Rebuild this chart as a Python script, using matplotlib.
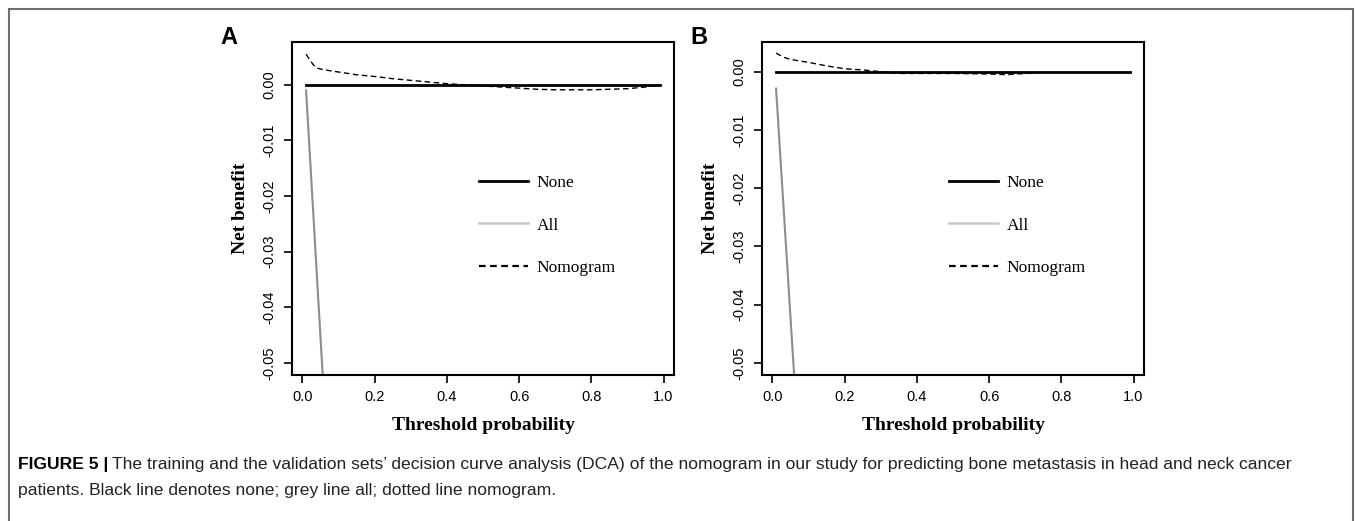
import matplotlib
matplotlib.use("Agg")
import matplotlib.pyplot as plt
from matplotlib.lines import Line2D
from matplotlib.patches import Rectangle

# threshold probabilities and net benefit
thr_a = [0.01, 0.02, 0.03, 0.04, 0.06, 0.08, 0.10, 0.15, 0.20, 0.25, 0.30, 0.35, 0.40,
         0.45, 0.50, 0.55, 0.60, 0.65, 0.70, 0.75, 0.80, 0.85, 0.90, 0.95, 0.99]
nomo_a = [0.0055, 0.0045, 0.0036, 0.0030, 0.0027, 0.0025, 0.0023, 0.0018, 0.0015, 0.0011,
          0.0008, 0.0005, 0.0002, 0.0000, -0.0002, -0.0004, -0.0006, -0.0008, -0.0009,
          -0.0009, -0.0009, -0.0008, -0.0007, -0.0004, 0.0000]
all_thr_a = [0.01, 0.02, 0.03, 0.04, 0.05, 0.06]
all_a = [-0.0010, -0.0121, -0.0232, -0.0344, -0.0455, -0.0566]

thr_b = [0.01, 0.03, 0.05, 0.10, 0.15, 0.20, 0.25, 0.30, 0.35, 0.40, 0.50, 0.60, 0.65, 0.70, 0.73]
nomo_b = [0.0032, 0.0025, 0.0021, 0.0016, 0.0010, 0.0005, 0.0003, 0.0000, -0.0003, -0.0003,
          -0.0003, -0.0004, -0.0005, -0.0003, -0.0002]
all_thr_b = [0.01, 0.02, 0.03, 0.04, 0.05, 0.06]
all_b = [-0.0029, -0.0128, -0.0226, -0.0324, -0.0423, -0.0521]

none_thr = [0.01, 0.99]
none_val = [0.0, 0.0]

xticks = [0.0, 0.2, 0.4, 0.6, 0.8, 1.0]
yticks = [0.00, -0.01, -0.02, -0.03, -0.04, -0.05]
ytick_labels = ["0.00", "-0.01", "-0.02", "-0.03", "-0.04", "-0.05"]

SERIF = "Liberation Serif"
SANS = "Liberation Sans"
GREY_PLOT = "#8c8c8c"
GREY_LEG = "#c8c8c8"

fig = plt.figure(figsize=(13.55, 5.21), dpi=100)

# outer frame of the figure page
fig.patches.append(Rectangle((9 / 1355, -0.05), 1344 / 1355, (521 - 8.5) / 521 + 0.05,
                             transform=fig.transFigure, fill=False,
                             edgecolor="#6e6e6e", linewidth=1.5))


def draw_panel(rect, letter, thr, nomo, all_thr, all_val, ylim):
    ax = fig.add_axes(rect)
    ax.plot(none_thr, none_val, color="black", lw=2.0)
    ax.plot(all_thr, all_val, color=GREY_PLOT, lw=1.5)
    ax.plot(thr, nomo, color="black", lw=1.0, ls=(0, (4, 2.5)))
    ax.set_xlim(-0.029, 1.029)
    ax.set_ylim(*ylim)
    ax.set_xticks(xticks)
    ax.set_xticklabels([f"{t:.1f}" for t in xticks], fontfamily=SANS, fontsize=10.5)
    ax.set_yticks(yticks)
    ax.set_yticklabels(ytick_labels, fontfamily=SANS, fontsize=10.5,
                       rotation=90, va="center")
    ax.tick_params(length=6, width=1.2, pad=5)
    for s in ax.spines.values():
        s.set_linewidth(1.5)
    ax.set_xlabel("Threshold probability", fontfamily=SERIF, fontweight="bold",
                  fontsize=14, labelpad=9)
    ax.set_ylabel("Net benefit", fontfamily=SERIF, fontweight="bold",
                  fontsize=14, labelpad=10)
    handles = [Line2D([], [], color="black", lw=2.0),
               Line2D([], [], color=GREY_LEG, lw=1.8),
               Line2D([], [], color="black", lw=1.6, ls=(0, (3, 2)))]
    ax.legend(handles, ["None", "All", "Nomogram"], loc="upper left",
              bbox_to_anchor=(0.49, 0.600), frameon=False, borderpad=0,
              borderaxespad=0, handlelength=2.8, handletextpad=0.5,
              labelspacing=1.5, prop={"family": SERIF, "size": 12.5})
    fig.text(rect[0] - 72 / 1355, 1 - 38 / 521, letter, fontfamily=SANS,
             fontweight="bold", fontsize=17, ha="left", va="center")
    return ax


draw_panel([292 / 1355, 146 / 521, 382 / 1355, 333 / 521], "A",
           thr_a, nomo_a, all_thr_a, all_a, (-0.0522, 0.0077))
draw_panel([762 / 1355, 146 / 521, 382 / 1355, 333 / 521], "B",
           thr_b, nomo_b, all_thr_b, all_b, (-0.0521, 0.0051))

# caption, bold lead-in followed by plain text
renderer = fig.canvas.get_renderer()
y1 = 1 - 465 / 521
y2 = 1 - 491 / 521
lead = fig.text(18 / 1355, y1, "FIGURE 5 |", fontfamily=SANS, fontweight="bold",
                fontsize=12.6, va="center")
bb = lead.get_window_extent(renderer)
fig.text(bb.x1 / 1355 + 4 / 1355, y1,
         "The training and the validation sets\u2019 decision curve analysis (DCA) of the "
         "nomogram in our study for predicting bone metastasis in head and neck cancer",
         fontfamily=SANS, fontsize=12.6, va="center", color="#222222")
fig.text(18 / 1355, y2, "patients. Black line denotes none; grey line all; dotted line nomogram.",
         fontfamily=SANS, fontsize=12.6, va="center", color="#222222")

fig.savefig("out.png", dpi=100)
